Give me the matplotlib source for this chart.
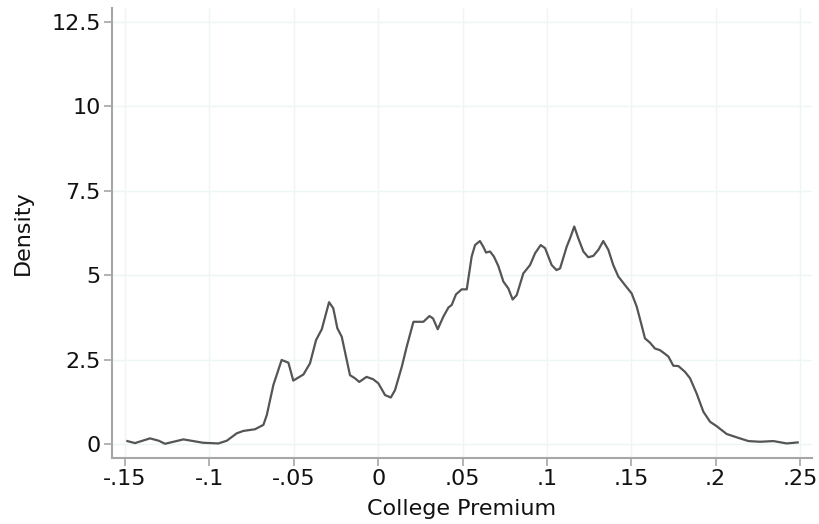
import numpy as np
import matplotlib
matplotlib.use('Agg')
import matplotlib.pyplot as plt

# kernel density of the college premium
premium = [-0.1486, -0.1441, -0.1352, -0.1300, -0.1263, -0.1154, -0.1037, -0.0947,
           -0.0897, -0.0838, -0.0799, -0.0730, -0.0680, -0.0660, -0.0621, -0.0572,
           -0.0532, -0.0503, -0.0443, -0.0404, -0.0368, -0.0334, -0.0291, -0.0266,
           -0.0242, -0.0216, -0.0167, -0.0138, -0.0112, -0.0069, -0.0030, 0.0001,
           0.0041, 0.0075, 0.0100, 0.0140, 0.0169, 0.0209, 0.0268, 0.0304,
           0.0325, 0.0353, 0.0386, 0.0416, 0.0436, 0.0461, 0.0495, 0.0525,
           0.0554, 0.0574, 0.0603, 0.0623, 0.0639, 0.0663, 0.0686, 0.0712,
           0.0742, 0.0771, 0.0797, 0.0821, 0.0860, 0.0900, 0.0930, 0.0963,
           0.0989, 0.1028, 0.1057, 0.1078, 0.1117, 0.1137, 0.1162, 0.1186,
           0.1216, 0.1245, 0.1275, 0.1305, 0.1334, 0.1364, 0.1393, 0.1423,
           0.1462, 0.1502, 0.1532, 0.1561, 0.1581, 0.1611, 0.1640, 0.1670,
           0.1700, 0.1720, 0.1749, 0.1779, 0.1818, 0.1848, 0.1887, 0.1927,
           0.1967, 0.2006, 0.2065, 0.2125, 0.2194, 0.2263, 0.2342, 0.2421, 0.2486]
density = [0.09, 0.03, 0.17, 0.10, 0.01, 0.14, 0.04, 0.02,
           0.10, 0.32, 0.39, 0.44, 0.57, 0.86, 1.75, 2.49,
           2.41, 1.88, 2.06, 2.39, 3.08, 3.40, 4.20, 4.02,
           3.43, 3.18, 2.04, 1.95, 1.84, 1.99, 1.92, 1.80,
           1.45, 1.38, 1.60, 2.29, 2.88, 3.62, 3.62, 3.79,
           3.72, 3.40, 3.77, 4.04, 4.12, 4.43, 4.58, 4.58,
           5.55, 5.89, 6.01, 5.84, 5.67, 5.70, 5.55, 5.27,
           4.81, 4.61, 4.28, 4.41, 5.05, 5.30, 5.65, 5.89,
           5.80, 5.30, 5.15, 5.20, 5.84, 6.09, 6.44, 6.09,
           5.70, 5.53, 5.57, 5.75, 6.01, 5.75, 5.30, 4.96,
           4.71, 4.46, 4.07, 3.52, 3.13, 3.00, 2.83, 2.78,
           2.67, 2.59, 2.32, 2.31, 2.14, 1.95, 1.50, 0.96,
           0.66, 0.53, 0.30, 0.20, 0.09, 0.07, 0.09, 0.02, 0.05]

xticks = [-0.15, -0.1, -0.05, 0, 0.05, 0.1, 0.15, 0.2, 0.25]
xticklabels = ['-.15', '-.1', '-.05', '0', '.05', '.1', '.15', '.2', '.25']
yticks = [0, 2.5, 5, 7.5, 10, 12.5]
yticklabels = ['0', '2.5', '5', '7.5', '10', '12.5']

fig = plt.figure(figsize=(8.19, 5.24), dpi=100)
ax = fig.add_axes([0.1368, 0.126, 0.8547, 0.859])

ax.plot(premium, density, color='#555555', lw=1.6)

ax.set_xlim(-0.1577, 0.2571)
ax.set_ylim(-0.41, 12.91)
ax.set_xticks(xticks)
ax.set_xticklabels(xticklabels)
ax.set_yticks(yticks)
ax.set_yticklabels(yticklabels)
ax.grid(True, color='#eef5f5', lw=1)
ax.set_axisbelow(True)

for s in ['top', 'right']:
    ax.spines[s].set_visible(False)
for s in ['left', 'bottom']:
    ax.spines[s].set_color('#a6a6a6')
    ax.spines[s].set_linewidth(1.5)
ax.tick_params(direction='out', length=6, width=1.2, color='#a6a6a6',
               labelsize=16, labelcolor='#111111', pad=2)

ax.set_xlabel('College Premium', fontsize=16, color='#111111', labelpad=7)
ax.set_ylabel('Density', fontsize=16, color='#111111', labelpad=13)

fig.savefig('out.png', dpi=100)
